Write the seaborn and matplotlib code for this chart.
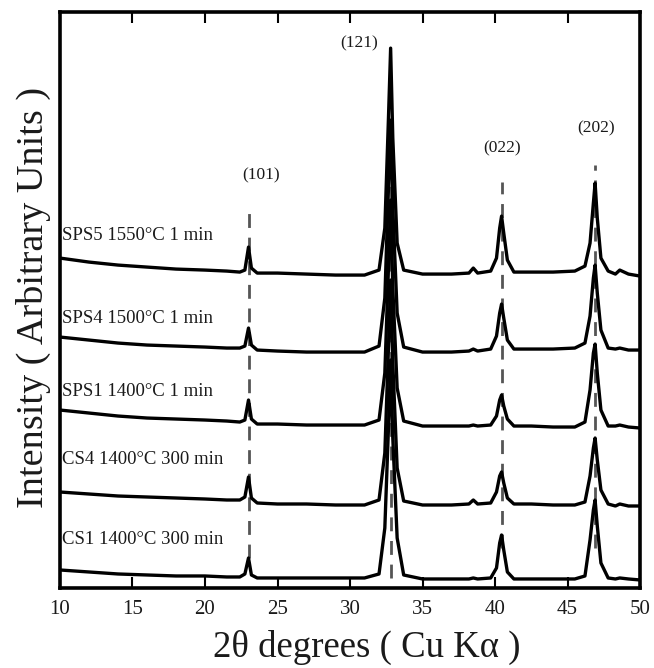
import numpy as np
import pandas as pd
import matplotlib
matplotlib.use("Agg")
import matplotlib.pyplot as plt
import seaborn as sns

# ---- data ----
two_theta = [10, 12, 14, 16, 18, 20, 21.5, 22.4, 22.75, 23.0, 23.2, 23.6, 25, 27, 29, 31,
             32.0, 32.4, 32.65, 32.8, 32.95, 33.25, 33.7, 35, 37, 38.2, 38.5, 38.8,
             39.7, 40.1, 40.32, 40.45, 40.6, 40.85, 41.3, 42.5, 44, 45.5,
             46.2, 46.55, 46.78, 46.9, 47.05, 47.3, 47.8, 48.3, 48.6, 49.2, 50]

sps5 = [330, 326, 323, 321, 319, 318, 317, 316, 318, 341, 320, 315, 315, 314, 313, 313,
        318, 360, 470, 540, 450, 345, 318, 314, 314, 315, 320, 315,
        317, 330, 360, 372, 355, 328, 316, 316, 316, 317,
        322, 345, 385, 405, 370, 330, 317, 314, 318, 314, 312]

sps4 = [251, 248, 245, 243, 242, 241, 240, 240, 242, 260, 243, 238, 237, 236, 236, 236,
        242, 290, 400, 468, 380, 275, 241, 236, 236, 237, 239, 237,
        239, 252, 275, 284, 270, 248, 239, 239, 239, 240,
        245, 272, 310, 323, 295, 258, 240, 239, 240, 238, 238]

sps1 = [178, 175, 172, 170, 169, 168, 167, 166, 168, 188, 169, 164, 164, 163, 163, 163,
        168, 215, 320, 388, 300, 200, 167, 162, 162, 162, 163, 162,
        163, 172, 188, 193, 182, 169, 162, 162, 161, 161,
        166, 198, 235, 244, 215, 178, 162, 162, 163, 161, 160]

cs4 = [96, 94, 92, 91, 90, 89, 88, 88, 91, 111, 90, 85, 84, 84, 83, 83,
       88, 135, 240, 308, 225, 120, 87, 83, 83, 84, 88, 84,
       85, 96, 112, 116, 105, 90, 84, 84, 83, 83,
       86, 112, 140, 150, 128, 98, 84, 82, 84, 82, 82]

cs1 = [18, 16, 14, 13, 12, 12, 11, 11, 14, 30, 13, 10, 10, 10, 10, 10,
       14, 60, 160, 228, 150, 50, 13, 9, 9, 9, 10, 9,
       10, 20, 45, 53, 38, 16, 9, 9, 9, 9,
       12, 48, 78, 88, 62, 25, 10, 9, 10, 9, 8]

samples = ["SPS5 1550°C 1 min", "SPS4 1500°C 1 min", "SPS1 1400°C 1 min",
           "CS4 1400°C 300 min", "CS1 1400°C 300 min"]
series = [sps5, sps4, sps1, cs4, cs1]
label_y = [353, 270, 197, 129, 48]

peak_pos = [23.0, 32.8, 40.45, 46.9]
peak_labels = ["(101)", "(121)", "(022)", "(202)"]
peak_label_x = [23.9, 30.6, 40.5, 46.95]
peak_label_y = [413, 545, 440, 460]
dash_top = [375, 448, 406, 423]
dash_bottom = [30, 10, 40, 40]

x_ticks = [10, 15, 20, 25, 30, 35, 40, 45, 50]

# ---- build long-form table ----
df = pd.concat([pd.DataFrame({"two_theta": two_theta, "intensity": s, "sample": name})
                for name, s in zip(samples, series)], ignore_index=True)

sns.set_theme(style="white")
plt.rcParams["font.family"] = ["Liberation Serif", "DejaVu Serif"]

fig = plt.figure(figsize=(6.54, 6.68), dpi=100)
ax = fig.add_axes([0.0917, 0.1198, 0.887, 0.862])

ax.vlines(peak_pos, dash_bottom, dash_top, colors="#555555", linestyles=(0, (5, 3.5)),
          linewidth=2.0, zorder=1)

sns.lineplot(data=df, x="two_theta", y="intensity", hue="sample", units="sample",
             estimator=None, sort=False, palette=["black"] * 5, legend=False,
             linewidth=2.4, ax=ax, zorder=2)

for name, ly in zip(samples, label_y):
    ax.text(10.15, ly, name, fontsize=13.5, va="center", ha="left", color="#1a1a1a")

for lab, lx, ly in zip(peak_labels, peak_label_x, peak_label_y):
    ax.text(lx, ly, lab, fontsize=12.5, va="center", ha="center", color="#1a1a1a")

ax.set_xlim(10, 50)
ax.set_ylim(0, 576)
ax.set_xticks(x_ticks)
ax.set_xticklabels([str(t) for t in x_ticks])
ax.set_yticks([])
ax.tick_params(axis="x", direction="in", top=True, bottom=True, length=8, width=1.5,
               labelsize=15, pad=9, colors="black", labelcolor="#1a1a1a")
ax.set_xlabel("2θ degrees ( Cu Kα )", fontsize=26.5, color="#1a1a1a")
ax.xaxis.set_label_coords(0.529, -0.073)
ax.set_ylabel("Intensity ( Arbitrary Units )", fontsize=27.5, color="#1a1a1a")
ax.yaxis.set_label_coords(-0.016, 0.505)
for sp in ax.spines.values():
    sp.set_linewidth(2.6)
    sp.set_color("black")

fig.savefig("out.png", dpi=100)
